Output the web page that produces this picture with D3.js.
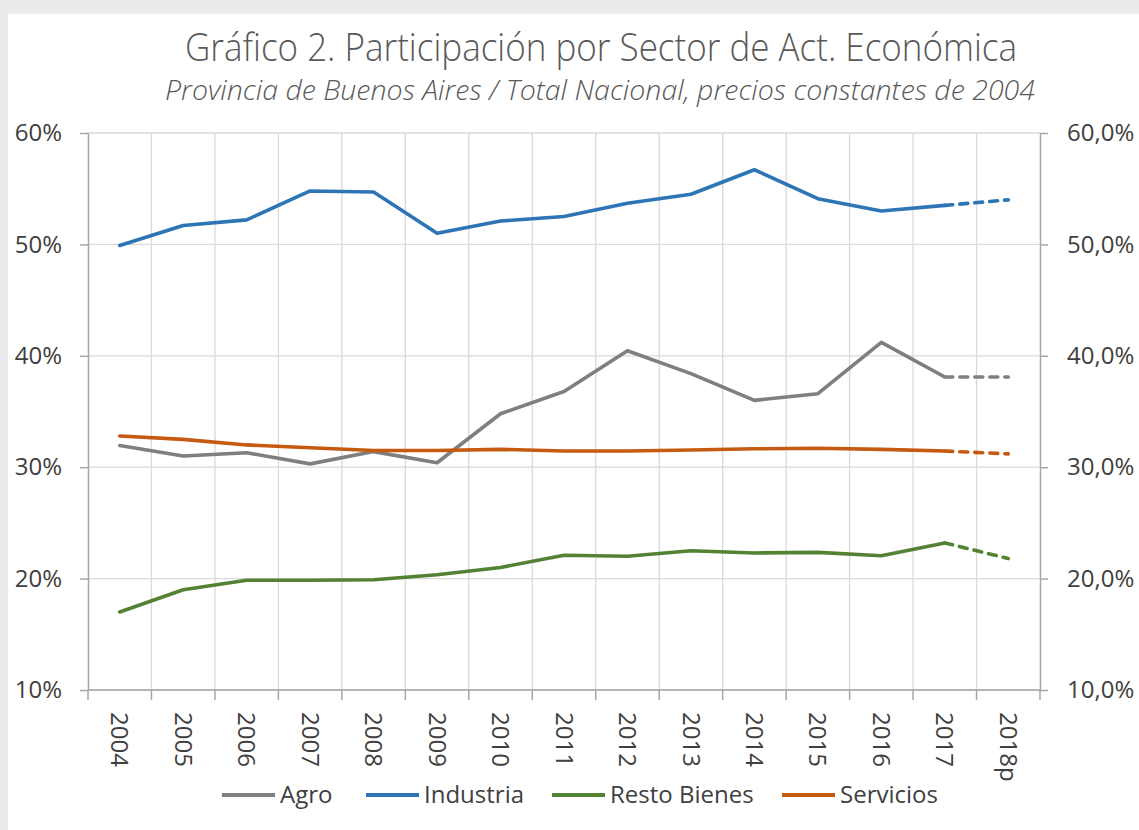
<!DOCTYPE html>
<html>
<head>
<meta charset="utf-8">
<script src="https://cdn.jsdelivr.net/npm/d3@7"></script>
<style>
  html, body { margin: 0; padding: 0; background: #ebebeb; }
  svg { display: block; }
</style>
</head>
<body>
<svg id="chart" width="1139" height="830"></svg>
<script>
const categories = ["2004","2005","2006","2007","2008","2009","2010","2011","2012","2013","2014","2015","2016","2017","2018p"];
const agro       = [31.95, 31.0, 31.3, 30.3, 31.4, 30.4, 34.8, 36.8, 40.45, 38.4, 36.0, 36.6, 41.2, 38.1, 38.1];
const industria  = [49.9, 51.7, 52.2, 54.8, 54.7, 51.0, 52.1, 52.5, 53.7, 54.5, 56.7, 54.1, 53.0, 53.5, 54.0];
const resto      = [17.0, 19.0, 19.85, 19.85, 19.9, 20.35, 21.0, 22.1, 22.0, 22.5, 22.3, 22.35, 22.05, 23.2, 21.8];
const servicios  = [32.8, 32.5, 32.0, 31.75, 31.5, 31.5, 31.6, 31.45, 31.45, 31.55, 31.65, 31.7, 31.6, 31.45, 31.2];
const seriesNames = ["Agro", "Industria", "Resto Bienes", "Servicios"];
const leftTicks = [10, 20, 30, 40, 50, 60];
const projectedFrom = 13; // index of 2017: segment to 2018p is dashed

const colors = ["#7f7f7f", "#2e75b6", "#548235", "#c55a11"];
const seriesData = [agro, industria, resto, servicios];

const svg = d3.select("#chart");
svg.append("rect").attr("x", 8).attr("y", 14).attr("width", 1131).attr("height", 816).attr("fill", "#ffffff");

const L = 88, R = 1040, T = 133, B = 690;
const x = d3.scaleBand().domain(categories).range([L, R]).padding(0);
const y = d3.scaleLinear().domain([10, 60]).range([B, T]);
const xc = c => x(c) + x.bandwidth() / 2;

const font = "'Open Sans', 'Noto Sans', sans-serif";

// Title
svg.append("text").attr("x", 601).attr("y", 61).attr("text-anchor", "middle")
  .attr("font-family", font).attr("font-weight", 300).attr("font-size", 39).attr("fill", "#595959")
  .attr("textLength", 832).attr("lengthAdjust", "spacingAndGlyphs")
  .text("Gráfico 2. Participación por Sector de Act. Económica");
svg.append("text").attr("x", 600).attr("y", 100).attr("text-anchor", "middle")
  .attr("font-family", font).attr("font-style", "italic").attr("font-weight", 300).attr("font-size", 27).attr("fill", "#595959")
  .attr("textLength", 870).attr("lengthAdjust", "spacingAndGlyphs")
  .text("Provincia de Buenos Aires / Total Nacional, precios constantes de 2004");

// Gridlines
const grid = svg.append("g");
grid.selectAll("line.h").data(leftTicks).join("line")
  .attr("x1", L).attr("x2", R).attr("y1", d => y(d)).attr("y2", d => y(d))
  .attr("stroke", "#d9d9d9").attr("stroke-width", 1.3);
grid.selectAll("line.v").data(categories.slice(1)).join("line")
  .attr("x1", d => x(d)).attr("x2", d => x(d)).attr("y1", T).attr("y2", B)
  .attr("stroke", "#d9d9d9").attr("stroke-width", 1.3);

// Axes
const axisColor = "#a6a6a6";
const leftAxis = svg.append("g").attr("transform", `translate(${L},0)`)
  .call(d3.axisLeft(y).tickValues(leftTicks).tickSize(8).tickSizeOuter(0).tickPadding(18).tickFormat(d => d + "%"));
const rightAxis = svg.append("g").attr("transform", `translate(${R},0)`)
  .call(d3.axisRight(y).tickValues(leftTicks).tickSize(8).tickSizeOuter(0).tickPadding(19).tickFormat(d => d.toFixed(1).replace(".", ",") + "%"));
[leftAxis, rightAxis].forEach(a => {
  a.select(".domain").attr("stroke", axisColor).attr("stroke-width", 1.5);
  a.selectAll(".tick line").attr("stroke", axisColor).attr("stroke-width", 1.5);
  a.selectAll(".tick text").attr("font-family", font).attr("font-size", 24).attr("fill", "#404040");
});

// Bottom axis
const bottom = svg.append("g");
bottom.append("line").attr("x1", L).attr("x2", R).attr("y1", B).attr("y2", B).attr("stroke", axisColor).attr("stroke-width", 1.5);
const boundaries = categories.map(c => x(c)).concat([R]);
bottom.selectAll("line.t").data(boundaries).join("line")
  .attr("x1", d => d).attr("x2", d => d).attr("y1", B).attr("y2", B + 10)
  .attr("stroke", axisColor).attr("stroke-width", 1.5);
bottom.selectAll("text").data(categories).join("text")
  .attr("transform", d => `translate(${xc(d)},${B + 22}) rotate(90)`)
  .attr("dy", "0.35em").attr("text-anchor", "start")
  .attr("font-family", font).attr("font-size", 24).attr("fill", "#404040")
  .text(d => d);

// Lines
const line = d3.line().x(d => xc(d.c)).y(d => y(d.v));
seriesData.forEach((vals, i) => {
  const pts = vals.map((v, j) => ({ c: categories[j], v }));
  svg.append("path").datum(pts.slice(0, projectedFrom + 1)).attr("d", line)
    .attr("fill", "none").attr("stroke", colors[i]).attr("stroke-width", 3.6)
    .attr("stroke-linejoin", "round").attr("stroke-linecap", "round");
  svg.append("path").datum(pts.slice(projectedFrom)).attr("d", line)
    .attr("fill", "none").attr("stroke", colors[i]).attr("stroke-width", 3.6)
    .attr("stroke-dasharray", "8,7").attr("stroke-linecap", "round");
});

// Legend
const legendX = [222, 366, 552, 782];
const lg = svg.append("g");
seriesNames.forEach((n, i) => {
  lg.append("line").attr("x1", legendX[i]).attr("x2", legendX[i] + 53).attr("y1", 795).attr("y2", 795)
    .attr("stroke", colors[i]).attr("stroke-width", 4);
  lg.append("text").attr("x", legendX[i] + 58).attr("y", 795).attr("dy", "0.35em")
    .attr("font-family", font).attr("font-size", 24).attr("fill", "#404040").text(n);
});
</script>
</body>
</html>
